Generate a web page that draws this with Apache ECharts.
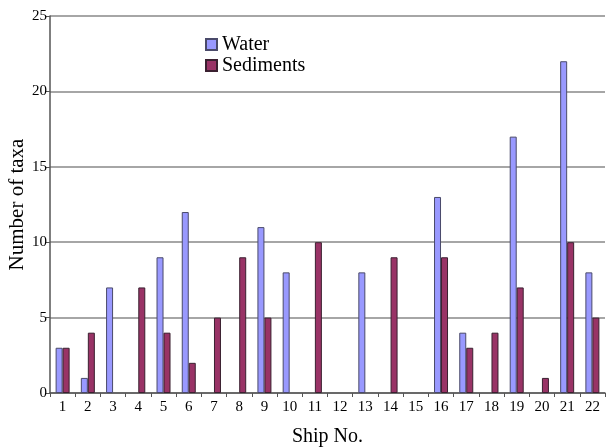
<!DOCTYPE html>
<html><head><meta charset="utf-8">
<script src="https://cdn.jsdelivr.net/npm/echarts@6/dist/echarts.min.js"></script>
<style>html,body{margin:0;padding:0;background:#fff}#c{width:606px;height:448px}</style>
</head><body><div id="c"></div>
<script>
const categories = ['1','2','3','4','5','6','7','8','9','10','11','12','13','14','15','16','17','18','19','20','21','22'];
const water =     [3,1,7,0,9,12,0,0,11,8,0,0,8,0,0,13,4,0,17,0,22,8];
const sediments = [3,4,0,7,4,2,5,9,5,0,10,0,0,9,0,9,3,4,7,1,10,5];
const yTicks = [0,5,10,15,20,25];

const font = '"Liberation Serif","Times New Roman",serif';
const hideZero = arr => arr.map(v => v === 0 ? null : v);
const chart = echarts.init(document.getElementById('c'), null, {renderer:'canvas'});
chart.setOption({
  animation:false,
  backgroundColor:'#fff',
  textStyle:{fontFamily:font},
  grid:{left:50, right:1, top:16, bottom:55, containLabel:false, outerBoundsMode:'none'},
  legend:{
    orient:'vertical', left:200, top:29, itemWidth:11, itemHeight:11, itemGap:0, icon:'rect',
    textStyle:{fontFamily:font, fontSize:20, color:'#000', lineHeight:21},
    data:['Water','Sediments']
  },
  xAxis:{
    type:'category', data:categories,
    name:'Ship No.', nameLocation:'middle', nameGap:34, nameMoveOverlap:false,
    nameTextStyle:{fontFamily:font, fontSize:20, color:'#000'},
    axisLine:{lineStyle:{color:'#555', width:1.5}},
    axisTick:{show:true, length:4, lineStyle:{color:'#555'}},
    axisLabel:{fontFamily:font, fontSize:15, color:'#000', margin:7}
  },
  yAxis:{
    type:'value', min:0, max:25, interval:5,
    name:'Number of taxa', nameLocation:'middle', nameGap:22, nameMoveOverlap:false,
    nameTextStyle:{fontFamily:font, fontSize:21, color:'#000'},
    axisLine:{show:true, lineStyle:{color:'#555', width:1.5}},
    axisTick:{show:true, length:4, lineStyle:{color:'#555'}},
    axisLabel:{fontFamily:font, fontSize:15, color:'#000', margin:3,
      formatter:v=>yTicks.includes(v)?String(v):''},
    splitLine:{show:true, lineStyle:{color:'#888', width:1.5}}
  },
  series:[
    {name:'Water', type:'bar', data:hideZero(water), barWidth:7, barGap:'0%',
     itemStyle:{color:'#9999ff', borderColor:'#4a4a6a', borderWidth:1}},
    {name:'Sediments', type:'bar', data:hideZero(sediments), barWidth:7, barGap:'0%',
     itemStyle:{color:'#993366', borderColor:'#3a2030', borderWidth:1}}
  ]
});
</script></body></html>
